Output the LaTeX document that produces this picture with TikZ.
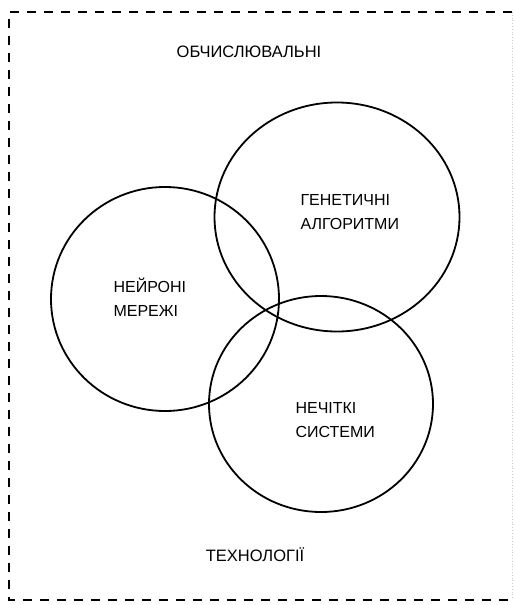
\documentclass[tikz,border=0pt]{standalone}
\usepackage{fontspec}
\setmainfont{Liberation Sans}
\usetikzlibrary{shapes.geometric, positioning}

\begin{document}
\begin{tikzpicture}[
        x=1pt, y=-1pt,
        area/.style={ellipse, draw, line width=1.8pt, inner sep=0pt},
        label/.style={align=left, anchor=west, font={\fontsize{16}{24}\selectfont}},
        title/.style={font={\fontsize{16.5}{18}\selectfont}},
        frame/.style={line width=2.2pt, dash pattern=on 9pt off 8pt}
    ]
        \useasboundingbox (0,0) rectangle (514,605);

        % Frame
        \coordinate (tl) at (9,12);
        \coordinate (tr) at (512,12);
        \coordinate (br) at (512,600);
        \coordinate (bl) at (9,600);
        \draw [frame] (tr) -- (tl) -- (bl) -- (br);
        \draw [gray!40, dotted, line width=0.8pt] (tr) -- (br);

        % Circles
        \node (gen) [area, minimum width=245pt, minimum height=229pt] at (337,217) {};
        \node (neuro) [area, minimum width=228pt, minimum height=224pt] at (165,299) {};
        \node (fuzzy) [area, minimum width=224pt, minimum height=216pt] at (321,404) {};

        % Labels
        \node (genT) [label] at (297,212) {ГЕНЕТИЧНІ\\АЛГОРИТМИ};
        \node (neuroT) [label] at (110,297) {НЕЙРОНІ\\МЕРЕЖІ};
        \node (fuzzyT) [label] at (292,420) {НЕЧІТКІ\\СИСТЕМИ};

        % Title
        \node (top) [title] at (249,52) {ОБЧИСЛЮВАЛЬНІ};
        \node (bottom) [title] at (255,555) {ТЕХНОЛОГІЇ};
    \end{tikzpicture}
\end{document}
